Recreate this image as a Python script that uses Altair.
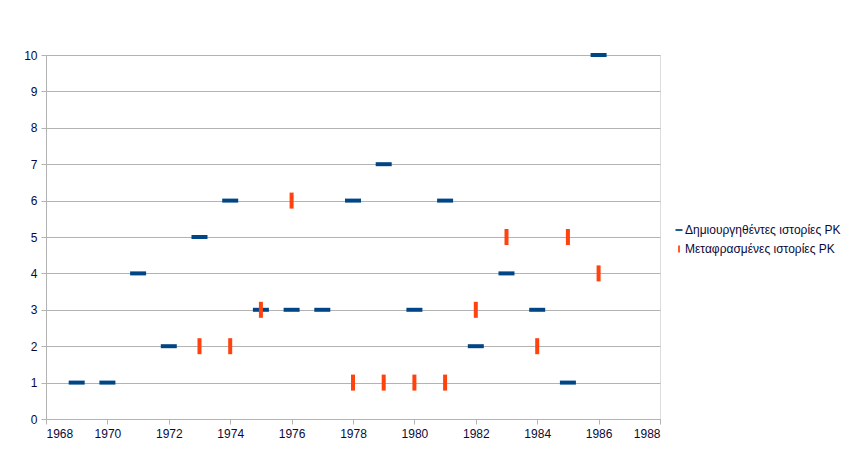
import altair as alt
import pandas as pd

created_years = [1969, 1970, 1971, 1972, 1973, 1974, 1975, 1976, 1977, 1978, 1979, 1980, 1981, 1982, 1983, 1984, 1985, 1986]
created_vals = [1, 1, 4, 2, 5, 6, 3, 3, 3, 6, 7, 3, 6, 2, 4, 3, 1, 10]
transl_years = [1973, 1974, 1975, 1976, 1978, 1979, 1980, 1981, 1982, 1983, 1984, 1985, 1986]
transl_vals = [2, 2, 3, 6, 1, 1, 1, 1, 3, 5, 2, 5, 4]

s1 = "Δημιουργηθέντες ιστορίες ΡΚ"
s2 = "Μεταφρασμένες ιστορίες ΡΚ"
series = [s1, s2]
colors = ["#004586", "#ff420e"]
shapes = ["M-1,-0.25H1V0.25H-1Z", "M-0.25,-1H0.25V1H-0.25Z"]

rows = [{"year": y, "value": v, "series": s1} for y, v in zip(created_years, created_vals)]
rows += [{"year": y, "value": v, "series": s2} for y, v in zip(transl_years, transl_vals)]
df = pd.DataFrame(rows)

font = "Liberation Sans"
label_color = "#0a0a3a"
grid_color = "#b3b3b3"

chart = alt.Chart(df).mark_point(filled=True, opacity=1, size=256, strokeWidth=0).encode(
    x=alt.X("year:Q",
            scale=alt.Scale(domain=[1968, 1988], nice=False, zero=False),
            axis=alt.Axis(values=list(range(1968, 1989, 2)), format="d", title=None,
                          grid=False, domainColor=grid_color, tickColor=grid_color,
                          tickSize=5, labelFont=font, labelFontSize=12,
                          labelColor=label_color, labelPadding=4)),
    y=alt.Y("value:Q",
            scale=alt.Scale(domain=[0, 10], nice=False),
            axis=alt.Axis(values=list(range(0, 11)), title=None, grid=True,
                          gridColor=grid_color, domainColor=grid_color, tickColor=grid_color,
                          tickSize=5, labelFont=font, labelFontSize=12,
                          labelColor=label_color, labelPadding=4)),
    color=alt.Color("series:N", scale=alt.Scale(domain=series, range=colors),
                    legend=alt.Legend(title=None, orient="none", legendX=627, legendY=169,
                                      labelFont=font, labelFontSize=12, labelColor=label_color,
                                      symbolSize=49, rowPadding=7, padding=0, labelOffset=0,
                                      labelLimit=300)),
    shape=alt.Shape("series:N", scale=alt.Scale(domain=series, range=shapes)),
).properties(
    width=614, height=364,
    autosize=alt.AutoSizeParams(type="none"),
    padding={"left": 38, "top": 47, "right": 182, "bottom": 36},
).configure_view(stroke=grid_color, strokeWidth=1).configure(background="white")

chart.save("out.html", embed_options={"renderer": "svg", "actions": False})
